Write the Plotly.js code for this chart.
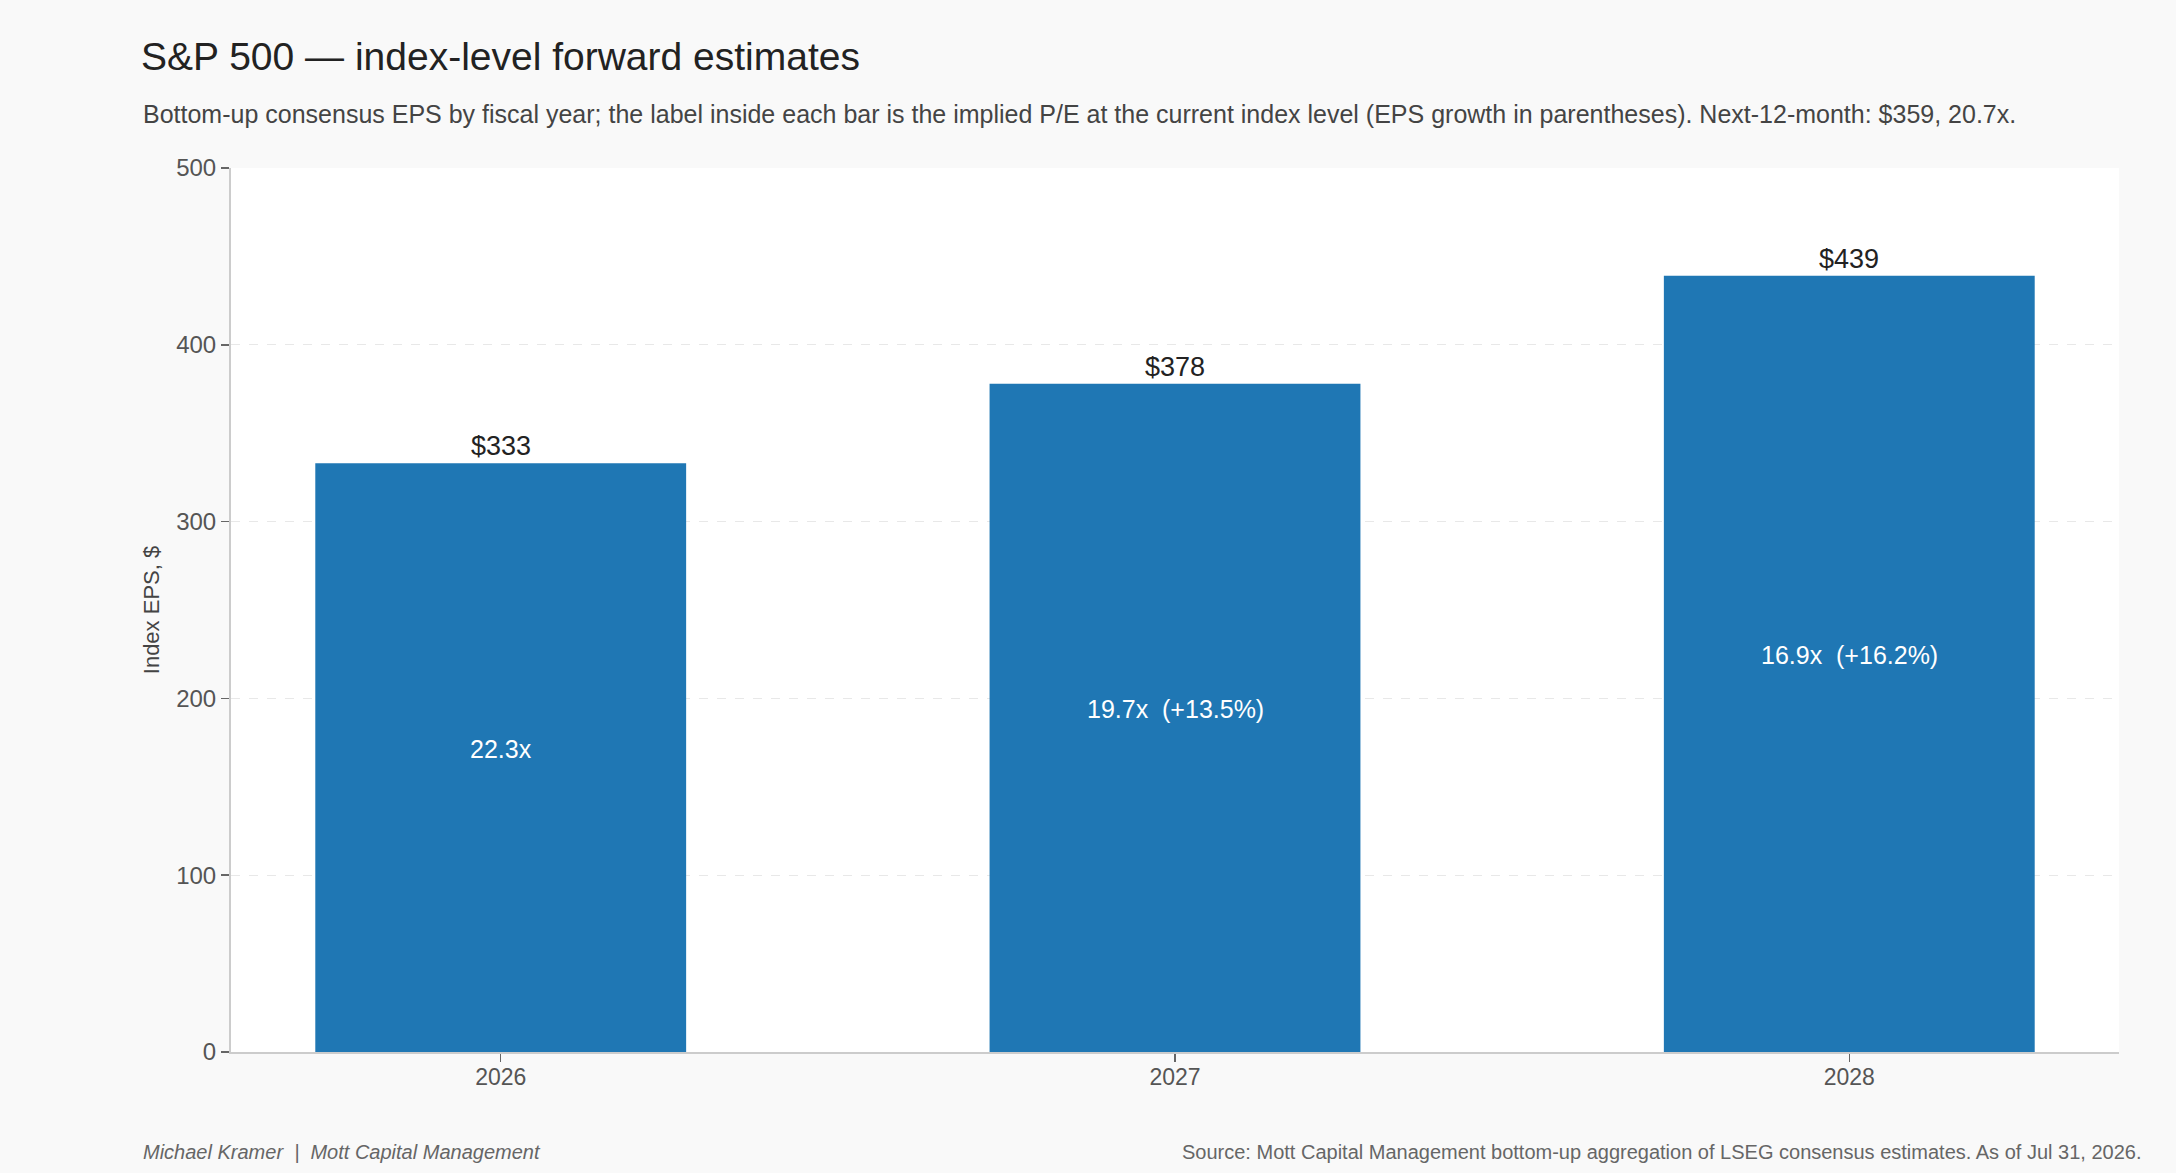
<!DOCTYPE html>
<html>
<head>
<meta charset="utf-8">
<script src="https://cdn.plot.ly/plotly-3.0.1.min.js"></script>
<style>
  html, body { margin: 0; padding: 0; background: #f9f9f9; }
  #plot { width: 2176px; height: 1173px; }
</style>
</head>
<body>
<div id="plot"></div>
<script>
// fiscal years and bottom-up consensus EPS
var years = ["2026", "2027", "2028"];
var eps = [333, 378, 439];
// implied P/E at current index level, and EPS growth vs prior year
var pe = ["22.3x", "19.7x", "16.9x"];
var growth = ["", "+13.5%", "+16.2%"];

var yTicks = [0, 100, 200, 300, 400, 500];

var font = "Liberation Sans, Arial, Helvetica, sans-serif";

// label inside each bar: P/E, plus growth where there is one
var inside = pe.map((p, i) => growth[i] ? p + "  (" + growth[i] + ")" : p);

var trace1 = {
  x: years,
  y: eps,
  type: "bar",
  width: 0.55,
  marker: { color: "#1f77b4" },
  hoverinfo: "x+y",
  showlegend: false
};

var data = [trace1];

// numeric-looking categories: place annotations by category index
var annotations = [];
years.forEach((yr, i) => {
  // dollar label on top of the bar
  annotations.push({
    x: i, y: eps[i],
    xref: "x", yref: "y",
    text: "$" + eps[i],
    showarrow: false,
    yanchor: "bottom",
    yshift: 0,
    font: { family: font, size: 27, color: "#222222" }
  });
  // P/E label in the middle of the bar
  annotations.push({
    x: i, y: eps[i] / 2,
    xref: "x", yref: "y",
    text: inside[i],
    showarrow: false,
    yanchor: "middle",
    yshift: 9,
    font: { family: font, size: 25, color: "#ffffff" }
  });
});

annotations.push({
  xref: "paper", yref: "paper",
  x: -0.0477, y: 1.061,
  xanchor: "left", yanchor: "middle",
  text: "Bottom-up consensus EPS by fiscal year; the label inside each bar is the implied P/E at the current index level (EPS growth in parentheses). Next-12-month: $359, 20.7x.",
  showarrow: false,
  font: { family: font, size: 25, color: "#444444" }
});

annotations.push({
  xref: "paper", yref: "paper",
  x: -0.0477, y: -0.113,
  xanchor: "left", yanchor: "middle",
  text: "<i>Michael Kramer  |  Mott Capital Management</i>",
  showarrow: false,
  font: { family: font, size: 20, color: "#666666" }
});

annotations.push({
  xref: "paper", yref: "paper",
  x: 1.0127, y: -0.113,
  xanchor: "right", yanchor: "middle",
  text: "Source: Mott Capital Management bottom-up aggregation of LSEG consensus estimates. As of Jul 31, 2026.",
  showarrow: false,
  font: { family: font, size: 20, color: "#666666" }
});

var layout = {
  width: 2176,
  height: 1173,
  paper_bgcolor: "#f9f9f9",
  plot_bgcolor: "#ffffff",
  margin: { l: 231, r: 57, t: 168, b: 121 },
  font: { family: font, color: "#555555" },
  title: {
    text: "S&P 500 — index-level forward estimates",
    xref: "container", yref: "container",
    x: 141 / 2176, xanchor: "left",
    y: 1 - 56 / 1173, yanchor: "middle",
    font: { family: font, size: 39, color: "#222222" }
  },
  xaxis: {
    type: "category",
    range: [-0.4, 2.4],
    showgrid: false,
    showline: true,
    linecolor: "#cccccc",
    linewidth: 2,
    ticks: "outside",
    ticklen: 8,
    tickwidth: 1.5,
    tickcolor: "#666666",
    ticklabelstandoff: -5,
    tickfont: { family: font, size: 23, color: "#555555" },
    zeroline: false
  },
  yaxis: {
    range: [0, 500],
    tickvals: yTicks,
    showgrid: true,
    gridcolor: "#e8e8e8",
    griddash: "dash",
    gridwidth: 1,
    showline: true,
    linecolor: "#cccccc",
    linewidth: 2,
    ticks: "outside",
    ticklen: 8,
    tickwidth: 1.5,
    tickcolor: "#666666",
    tickfont: { family: font, size: 24, color: "#555555" },
    zeroline: false,
    title: {
      text: "Index EPS, $",
      standoff: 10,
      font: { family: font, size: 22, color: "#444444" }
    }
  },
  annotations: annotations,
  bargap: 0.45
};

Plotly.newPlot("plot", data, layout, { displayModeBar: false, staticPlot: true });
</script>
</body>
</html>
